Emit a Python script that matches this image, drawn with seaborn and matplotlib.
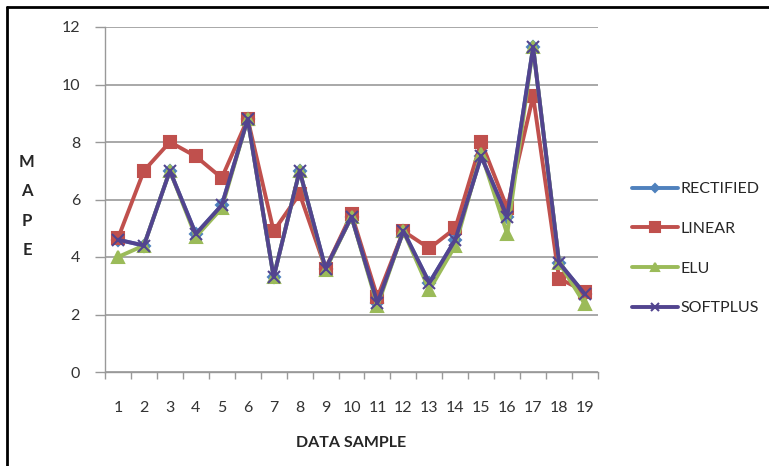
import numpy as np
import pandas as pd
import matplotlib
matplotlib.use('Agg')
import matplotlib.pyplot as plt
from matplotlib.lines import Line2D
import seaborn as sns

# podaci ocitani sa slike
samples = list(range(1, 20))
rectified = [4.6, 4.4, 7.0, 4.8, 5.8, 8.8, 3.3, 7.0, 3.6, 5.4, 2.4, 4.9, 3.1, 4.6, 7.5, 5.4, 11.3, 3.8, 2.7]
linear = [4.65, 7.0, 8.0, 7.5, 6.75, 8.8, 4.9, 6.2, 3.6, 5.5, 2.6, 4.9, 4.3, 5.0, 8.0, 5.7, 9.6, 3.25, 2.8]
elu = [4.0, 4.4, 7.0, 4.7, 5.7, 8.8, 3.3, 7.0, 3.55, 5.4, 2.3, 4.9, 2.85, 4.4, 7.6, 4.8, 11.3, 3.8, 2.35]
softplus = [4.6, 4.4, 7.0, 4.8, 5.8, 8.8, 3.3, 7.0, 3.6, 5.4, 2.4, 4.9, 3.1, 4.6, 7.5, 5.4, 11.3, 3.8, 2.7]
series_names = ['RECTIFIED', 'LINEAR', 'ELU', 'SOFTPLUS']
y_ticks = [0, 2, 4, 6, 8, 10, 12]

series = {'RECTIFIED': rectified, 'LINEAR': linear, 'ELU': elu, 'SOFTPLUS': softplus}

sns.set_style('white')
plt.rcParams['font.family'] = ['Lato', 'DejaVu Sans']

colors = {'RECTIFIED': '#4F81BD', 'LINEAR': '#C0504D',
          'ELU': '#9BBB59', 'SOFTPLUS': '#52448F'}
markers = {'RECTIFIED': 'D', 'LINEAR': 's', 'ELU': '^', 'SOFTPLUS': 'x'}
msizes = {'RECTIFIED': 6, 'LINEAR': 9, 'ELU': 8, 'SOFTPLUS': 8}

fig = plt.figure(figsize=(7.69, 4.66), dpi=100)
ax = fig.add_axes([105 / 769, 94 / 466, 493 / 769, 345 / 466])

for name in series_names:
    sns.lineplot(x=samples, y=series[name], color=colors[name], marker=markers[name],
                 markersize=msizes[name], markeredgewidth=1.5, markeredgecolor=colors[name],
                 linewidth=2.8, label=name, ax=ax)

ax.set_xlim(0.5, 19.5)
ax.set_ylim(0, 12)
ax.set_yticks(y_ticks)
ax.set_xticks(samples)
ax.set_xticks(np.arange(0.5, 20, 1), minor=True)
ax.tick_params(axis='x', which='major', length=0, pad=21, labelsize=11.5, labelcolor='#333333')
ax.tick_params(axis='x', which='minor', length=5, width=1, color='#999999', direction='out', bottom=True)
ax.tick_params(axis='y', length=7, width=1, color='#999999', direction='out', left=True,
               labelsize=11.5, labelcolor='#333333', pad=11)
ax.yaxis.grid(True, color='#9a9a9a', linewidth=1.2)
ax.set_axisbelow(True)
for side in ['top', 'right']:
    ax.spines[side].set_visible(False)
for side in ['left', 'bottom']:
    ax.spines[side].set_color('#999999')
    ax.spines[side].set_linewidth(1)

ax.set_xlabel('DATA SAMPLE', fontsize=11.5, fontweight='bold', labelpad=15)
ax.set_ylabel('')
fig.text(27 / 769, 1 - 206 / 466, 'M\nA\nP\nE', ha='center', va='center',
         fontsize=12, fontweight='bold', linespacing=2.05)

handles, labels = ax.get_legend_handles_labels()
ax.legend(handles, labels, loc='upper left', bbox_to_anchor=(632 / 769, 1 - 182 / 466),
          bbox_transform=fig.transFigure, frameon=False, fontsize=11.5,
          handlelength=2.9, handletextpad=0.15, labelspacing=1.6, markerscale=0.75,
          borderpad=0, borderaxespad=0)

# okvir slike
fig.add_artist(Line2D([7 / 769, 7 / 769], [0, 1 - 7 / 466], color='black', linewidth=2, transform=fig.transFigure))
fig.add_artist(Line2D([7 / 769, 1], [1 - 7 / 466, 1 - 7 / 466], color='black', linewidth=2, transform=fig.transFigure))

fig.savefig('out.png', dpi=100)
